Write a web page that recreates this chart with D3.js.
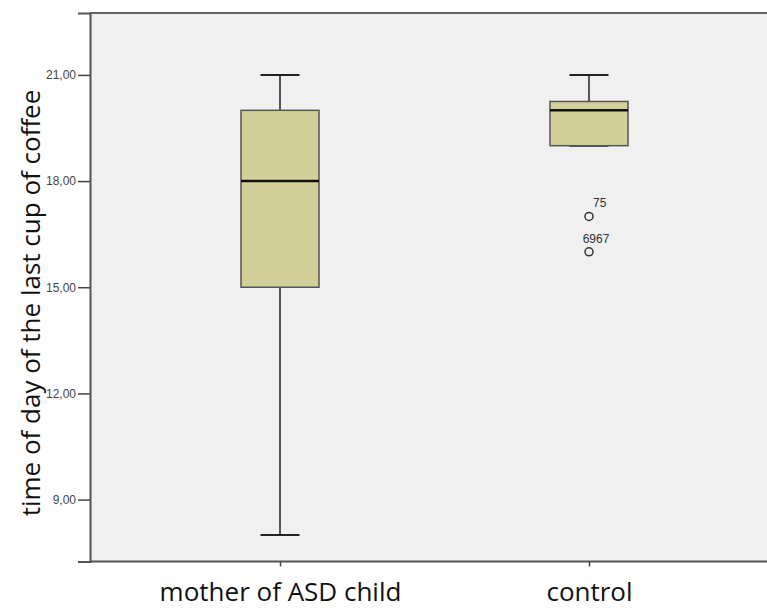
<!DOCTYPE html>
<html lang="en">
<head>
<meta charset="UTF-8">
<title>Coffee boxplot</title>
<script src="https://d3js.org/d3.v7.min.js"></script>
<style>
  body { margin: 0; padding: 0; background: #fff; }
  svg text { font-family: "Open Sans", "Liberation Sans", sans-serif; }
</style>
</head>
<body>
<svg id="chart"></svg>
<script>
const width = 767, height = 608;
const margin = { top: 13, right: 0, bottom: 46, left: 90 };

// data
const groups = ["mother of ASD child", "control"];
const whiskerLow = [8, 19];
const q1 = [15, 19];
const medians = [18, 20];
const q3 = [20, 20.25];
const whiskerHigh = [21, 21];
const outlierGroup = ["control", "control"];
const outlierValues = [17, 16];
const outlierLabels = ["75", "6967"];
const yTicks = [9, 12, 15, 18, 21];

const svg = d3.select("#chart").attr("width", width).attr("height", height);

const x = d3.scalePoint().domain(groups).range([280, 589]);
const y = d3.scaleLinear().domain([7.25, 22.75]).range([height - margin.bottom - 0.5, margin.top]);

// plot background
svg.append("rect")
  .attr("x", margin.left).attr("y", margin.top)
  .attr("width", width - margin.left).attr("height", y(7.25) - margin.top)
  .attr("fill", "#f0f0f0");

// frame top
svg.append("line")
  .attr("x1", margin.left).attr("x2", width)
  .attr("y1", margin.top).attr("y2", margin.top)
  .attr("stroke", "#666").attr("stroke-width", 2);

const fmt = d => d3.format(".2f")(d).replace(".", ",");

const yAxis = svg.append("g")
  .attr("transform", `translate(${margin.left},0)`)
  .call(d3.axisLeft(y).tickValues(yTicks).tickFormat(fmt).tickSize(12).tickPadding(2));
yAxis.select(".domain").attr("stroke", "#555").attr("stroke-width", 2);
yAxis.selectAll(".tick line").attr("stroke", "#444").attr("stroke-width", 1.5);
yAxis.selectAll(".tick text").attr("fill", "#444").style("font-size", "12px")
  .style("font-family", "Liberation Sans, Arial, sans-serif");

const xAxis = svg.append("g")
  .attr("transform", `translate(0,${y(7.25)})`)
  .call(d3.axisBottom(x).tickSize(5).tickPadding(16));
xAxis.select(".domain").attr("stroke", "#555").attr("stroke-width", 2).attr("d", `M${margin.left},0H${width}`);
xAxis.selectAll(".tick line").attr("stroke", "#444").attr("stroke-width", 1.5);
xAxis.selectAll(".tick text").attr("fill", "#111").style("font-size", "26px");

// y title
svg.append("text")
  .attr("transform", "rotate(-90)")
  .attr("x", -303)
  .attr("y", 40)
  .attr("text-anchor", "middle")
  .attr("fill", "#111")
  .style("font-size", "26px")
  .text("time of day of the last cup of coffee");

const boxW = 78, capW = 39;
const stats = groups.map((g, i) => ({ g, lo: whiskerLow[i], q1: q1[i], med: medians[i], q3: q3[i], hi: whiskerHigh[i] }));

const box = svg.selectAll("g.box").data(stats).enter().append("g").attr("class", "box");

// whiskers
box.append("line")
  .attr("x1", d => x(d.g)).attr("x2", d => x(d.g))
  .attr("y1", d => y(d.hi)).attr("y2", d => y(d.q3))
  .attr("stroke", "#222").attr("stroke-width", 1.5);
box.append("line")
  .attr("x1", d => x(d.g)).attr("x2", d => x(d.g))
  .attr("y1", d => y(d.q1)).attr("y2", d => y(d.lo))
  .attr("stroke", "#222").attr("stroke-width", 1.5);
box.append("line")
  .attr("x1", d => x(d.g) - capW / 2).attr("x2", d => x(d.g) + capW / 2)
  .attr("y1", d => y(d.hi)).attr("y2", d => y(d.hi))
  .attr("stroke", "#222").attr("stroke-width", 2);
box.append("line")
  .attr("x1", d => x(d.g) - capW / 2).attr("x2", d => x(d.g) + capW / 2)
  .attr("y1", d => y(d.lo)).attr("y2", d => y(d.lo))
  .attr("stroke", "#222").attr("stroke-width", 2);

// boxes
box.append("rect")
  .attr("x", d => x(d.g) - boxW / 2).attr("width", boxW)
  .attr("y", d => y(d.q3)).attr("height", d => y(d.q1) - y(d.q3))
  .attr("fill", "#d3cf98").attr("stroke", "#555").attr("stroke-width", 1.5);

// medians
box.append("line")
  .attr("x1", d => x(d.g) - boxW / 2).attr("x2", d => x(d.g) + boxW / 2)
  .attr("y1", d => y(d.med)).attr("y2", d => y(d.med))
  .attr("stroke", "#111").attr("stroke-width", 2.5);

// outliers
outlierValues.forEach((v, i) => {
  const cx = x(outlierGroup[i]);
  svg.append("circle")
    .attr("cx", cx).attr("cy", y(v)).attr("r", 4)
    .attr("fill", "none").attr("stroke", "#333").attr("stroke-width", 1.5);
  svg.append("text")
    .attr("x", cx + (outlierLabels[i].length > 2 ? 7 : 4))
    .attr("y", y(v) - 9)
    .attr("text-anchor", outlierLabels[i].length > 2 ? "middle" : "start")
    .attr("fill", "#333")
    .style("font-size", "12px")
    .style("font-family", "Liberation Sans, Arial, sans-serif")
    .text(outlierLabels[i]);
});
</script>
</body>
</html>
